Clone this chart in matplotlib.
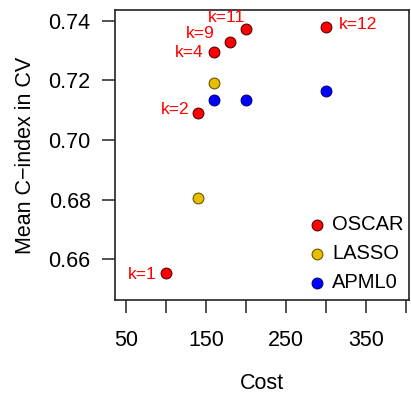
import matplotlib.pyplot as plt

plt.rcParams['font.family'] = ['Liberation Sans', 'DejaVu Sans']

# OSCAR results for several k
oscar_cost = [100, 140, 160, 180, 200, 300]
oscar_cindex = [0.6555, 0.7091, 0.7294, 0.7330, 0.7372, 0.7380]
oscar_labels = ['k=1', 'k=2', 'k=4', 'k=9', 'k=11', 'k=12']

lasso_cost = [140, 160]
lasso_cindex = [0.6806, 0.7191]

apml0_cost = [160, 200, 300]
apml0_cindex = [0.7133, 0.7134, 0.7166]

xticks = [50, 100, 150, 200, 250, 300, 350, 400]
xticklabels = ['50', '', '150', '', '250', '', '350', '']
yticks = [0.66, 0.68, 0.70, 0.72, 0.74]

fig = plt.figure(figsize=(4.11, 3.96), dpi=100)
ax = fig.add_axes([115 / 411, 96 / 396, 294 / 411, 290 / 396])

ms = 60
ax.scatter(oscar_cost, oscar_cindex, s=ms, c='#FF0000', edgecolors='#5a0000',
           linewidths=0.8, label='OSCAR', zorder=3)
ax.scatter(lasso_cost, lasso_cindex, s=ms, c='#E8BE00', edgecolors='#6a5500',
           linewidths=0.8, label='LASSO', zorder=3)
ax.scatter(apml0_cost, apml0_cindex, s=ms, c='#0000FF', edgecolors='#00007a',
           linewidths=0.8, label='APML0', zorder=3)

# label offsets in pixels (dx, dy, ha)
offsets = [(-9, -2, 'right'), (-8, 3, 'right'), (-10, 0, 'right'),
           (-15, 8, 'right'), (-19, 12, 'center'), (13, 2, 'left')]
for x, y, lab, (dx, dy, ha) in zip(oscar_cost, oscar_cindex, oscar_labels, offsets):
    ax.annotate(lab, (x, y), xytext=(dx, dy), textcoords='offset pixels',
                ha=ha, va='center', color='#FF0000', fontsize=12.5)

ax.set_xlim(36.4, 403.6)
ax.set_ylim(0.6464, 0.7436)
ax.set_xticks(xticks)
ax.set_xticklabels(xticklabels)
ax.set_yticks(yticks)
ax.set_yticklabels(['%.2f' % v for v in yticks])
ax.tick_params(axis='both', direction='out', length=9.5, width=1.2,
               labelsize=15.5, color='#333333')
ax.tick_params(axis='x', pad=12)
ax.tick_params(axis='y', pad=8)
for sp in ax.spines.values():
    sp.set_linewidth(1.2)
    sp.set_color('#222222')

ax.set_xlabel('Cost', fontsize=15.5, labelpad=16)
ax.set_ylabel('Mean C\u2212index in CV', fontsize=15.5, labelpad=9)

ax.legend(loc='lower right', frameon=False, fontsize=14.5, handletextpad=0.1,
          borderaxespad=0.0, labelspacing=0.5, scatterpoints=1,
          handlelength=1.3, bbox_to_anchor=(1.01, 0.0))

fig.savefig('out.png', dpi=100)
